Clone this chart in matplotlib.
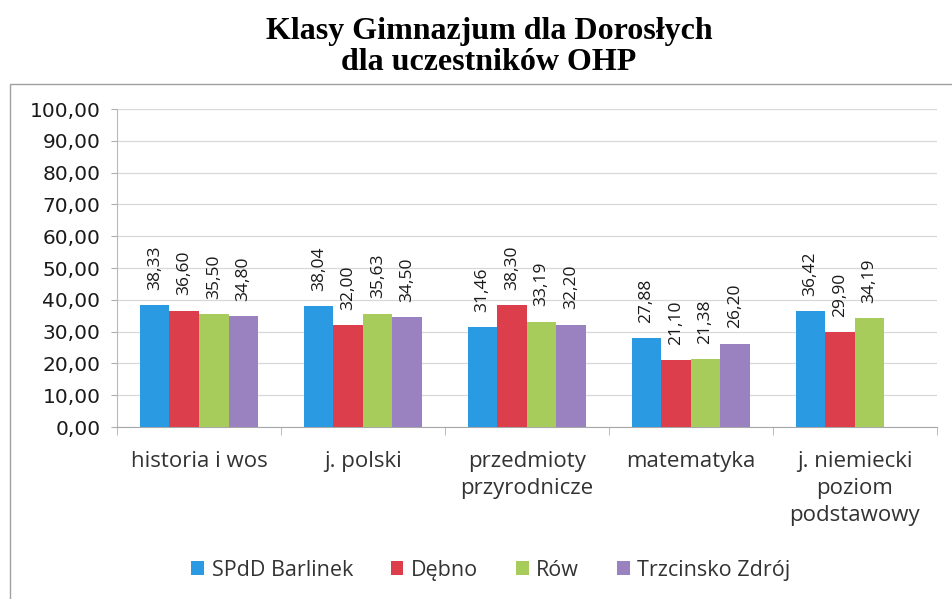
import numpy as np
from matplotlib import pyplot as plt
from matplotlib.patches import Rectangle

categories = ["historia i wos", "j. polski", "przedmioty\nprzyrodnicze",
              "matematyka", "j. niemiecki\npoziom\npodstawowy"]
series_names = ["SPdD Barlinek", "Dębno", "Rów", "Trzcinsko Zdrój"]
barlinek = [38.33, 38.04, 31.46, 27.88, 36.42]
debno = [36.60, 32.00, 38.30, 21.10, 29.90]
row = [35.50, 35.63, 33.19, 21.38, 34.19]
trzcinsko = [34.80, 34.50, 32.20, 26.20, np.nan]
colors = ["#2a9be3", "#dc3f4b", "#a8cc5c", "#9a82c0"]

series = [barlinek, debno, row, trzcinsko]

fig = plt.figure(figsize=(9.53, 5.99), dpi=100)
ax = fig.add_axes([0.1228, 0.287, 0.983 - 0.1228, 0.818 - 0.287])

# frame around the chart like the pasted Excel object
fig.patches.append(Rectangle((10 / 953, -0.02), 1.0, 1 - 84 / 599 + 0.02,
                             transform=fig.transFigure, fill=False,
                             edgecolor="#a0a0a0", linewidth=1.0))

x = np.arange(len(categories))
width = 0.18
for i, (vals, name, c) in enumerate(zip(series, series_names, colors)):
    pos = x + (i - 1.5) * width
    ax.bar(pos, vals, width, color=c, label=name, zorder=3)
    for p, v in zip(pos, vals):
        if np.isnan(v):
            continue
        ax.annotate(f"{v:.2f}".replace(".", ","), (p, v), xytext=(0, 11),
                    textcoords="offset points", rotation=90, ha="center",
                    va="bottom", fontsize=12.5, family="Open Sans", color="#1a1a1a")

ax.set_xlim(-0.5, len(categories) - 0.5)
ax.set_ylim(0, 100)
ax.set_yticks(np.arange(0, 101, 10))
ax.set_yticklabels([f"{t:.2f}".replace(".", ",") for t in np.arange(0, 101, 10)],
                   fontsize=14.5, color="#1a1a1a")
ax.yaxis.grid(True, color="#d8d8d8", linewidth=0.9, zorder=0)

ax.set_xticks(x)
ax.set_xticklabels(categories, fontsize=16, family="Open Sans", color="#333333",
                   linespacing=1.4)
ax.tick_params(axis="x", length=0, pad=17)
ax.set_xticks(np.arange(-0.5, len(categories)), minor=True)
ax.tick_params(axis="x", which="minor", length=6, color="#b0b0b0")
ax.tick_params(axis="y", length=4, color="#b0b0b0", pad=8)

for s in ["top", "right"]:
    ax.spines[s].set_visible(False)
ax.spines["left"].set_color("#b8b8b8")
ax.spines["bottom"].set_color("#a8a8a8")

fig.text(0.513, 0.948, "Klasy Gimnazjum dla Dorosłych", ha="center", va="center",
         fontsize=23, family="Liberation Serif", weight="bold")
fig.text(0.513, 0.895, "dla uczestników OHP", ha="center", va="center",
         fontsize=23, family="Liberation Serif", weight="bold")

leg = fig.legend(loc="center", bbox_to_anchor=(0.515, 0.048), ncol=4, frameon=False,
                 handlelength=0.6, handleheight=0.6, handletextpad=0.35,
                 columnspacing=1.75, prop={"family": "Open Sans", "size": 15.5})
for t in leg.get_texts():
    t.set_color("#333333")

fig.savefig("out.png", dpi=100)
